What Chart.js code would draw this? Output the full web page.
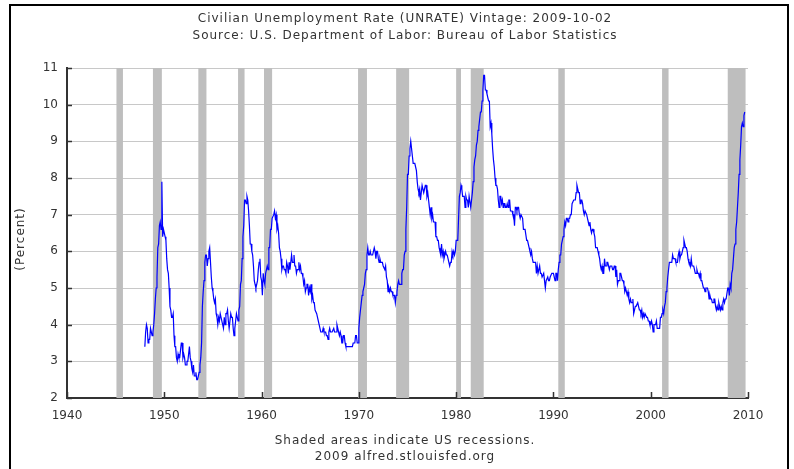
<!DOCTYPE html>
<html>
<head>
<meta charset="utf-8">
<title>UNRATE</title>
<script src="https://cdn.jsdelivr.net/npm/chart.js@4/dist/chart.umd.min.js"></script>
<style>
  html, body { margin: 0; padding: 0; background: #fff; }
  canvas { display: block; }
</style>
</head>
<body>
<canvas id="unrate-chart" width="794" height="469"></canvas>
<script>
// monthly civilian unemployment rate, Jan 1948 .. Sep 2009
const firstYear = 1948;
const rate1948to1959 = [
    3.4, 3.8, 4.0, 3.9, 3.5, 3.6, 3.6, 3.9, 3.8, 3.7, 3.8, 4.0,
    4.3, 4.7, 5.0, 5.3, 6.1, 6.2, 6.7, 6.8, 6.6, 7.9, 6.4, 6.6,
    6.5, 6.4, 6.3, 5.8, 5.5, 5.4, 5.0, 4.5, 4.4, 4.2, 4.2, 4.3,
    3.7, 3.4, 3.4, 3.1, 3.0, 3.2, 3.1, 3.1, 3.3, 3.5, 3.5, 3.1,
    3.2, 3.1, 2.9, 2.9, 3.0, 3.0, 3.2, 3.4, 3.1, 3.0, 2.8, 2.7,
    2.9, 2.6, 2.6, 2.7, 2.5, 2.5, 2.6, 2.7, 2.9, 3.1, 3.5, 4.5,
    4.9, 5.2, 5.7, 5.9, 5.9, 5.6, 5.8, 6.0, 6.1, 5.7, 5.3, 5.0,
    4.9, 4.7, 4.6, 4.7, 4.3, 4.2, 4.0, 4.2, 4.1, 4.3, 4.2, 4.2,
    4.0, 3.9, 4.2, 4.0, 4.3, 4.3, 4.4, 4.1, 3.9, 3.9, 4.3, 4.2,
    4.2, 3.9, 3.7, 3.9, 4.1, 4.3, 4.2, 4.1, 4.4, 4.5, 5.1, 5.2,
    5.8, 6.4, 6.7, 7.4, 7.4, 7.3, 7.5, 7.4, 7.1, 6.7, 6.2, 6.2,
    6.0, 5.9, 5.6, 5.2, 5.1, 5.0, 5.1, 5.2, 5.5, 5.7, 5.8, 5.3
];
const rate1960s = [
    5.2, 4.8, 5.4, 5.2, 5.1, 5.4, 5.5, 5.6, 5.5, 6.1, 6.1, 6.6,
    6.6, 6.9, 6.9, 7.0, 7.1, 6.9, 7.0, 6.6, 6.7, 6.5, 6.1, 6.0,
    5.8, 5.5, 5.6, 5.6, 5.5, 5.5, 5.4, 5.7, 5.6, 5.4, 5.7, 5.5,
    5.7, 5.9, 5.7, 5.7, 5.9, 5.6, 5.6, 5.4, 5.5, 5.5, 5.7, 5.5,
    5.6, 5.4, 5.4, 5.3, 5.1, 5.2, 4.9, 5.0, 5.1, 5.1, 4.8, 5.0,
    4.9, 5.1, 4.7, 4.8, 4.6, 4.6, 4.4, 4.4, 4.3, 4.2, 4.1, 4.0,
    4.0, 3.8, 3.8, 3.8, 3.9, 3.8, 3.8, 3.8, 3.7, 3.7, 3.6, 3.8,
    3.9, 3.8, 3.8, 3.8, 3.8, 3.9, 3.8, 3.8, 3.8, 4.0, 3.9, 3.8,
    3.7, 3.8, 3.7, 3.5, 3.5, 3.7, 3.7, 3.5, 3.4, 3.4, 3.4, 3.4,
    3.4, 3.4, 3.4, 3.4, 3.4, 3.5, 3.5, 3.5, 3.7, 3.7, 3.5, 3.5
];
const rate1970s = [
    3.9, 4.2, 4.4, 4.6, 4.8, 4.9, 5.0, 5.1, 5.4, 5.5, 5.9, 6.1,
    5.9, 5.9, 6.0, 5.9, 5.9, 5.9, 6.0, 6.1, 6.0, 5.8, 6.0, 6.0,
    5.8, 5.7, 5.8, 5.7, 5.7, 5.7, 5.6, 5.6, 5.5, 5.6, 5.3, 5.2,
    4.9, 5.0, 4.9, 5.0, 4.9, 4.9, 4.8, 4.8, 4.8, 4.6, 4.8, 4.9,
    5.1, 5.2, 5.1, 5.1, 5.1, 5.4, 5.5, 5.5, 5.9, 6.0, 6.6, 7.2,
    8.1, 8.1, 8.6, 8.8, 9.0, 8.8, 8.6, 8.4, 8.4, 8.4, 8.3, 8.2,
    7.9, 7.7, 7.6, 7.7, 7.4, 7.6, 7.8, 7.8, 7.6, 7.7, 7.8, 7.8,
    7.5, 7.6, 7.4, 7.2, 7.0, 7.2, 6.9, 7.0, 6.8, 6.8, 6.8, 6.4,
    6.4, 6.3, 6.3, 6.1, 6.0, 5.9, 6.2, 5.9, 6.0, 5.8, 5.9, 6.0,
    5.9, 5.9, 5.8, 5.8, 5.6, 5.7, 5.7, 6.0, 5.9, 6.0, 5.9, 6.0
];
const rate1980s = [
    6.3, 6.3, 6.3, 6.9, 7.5, 7.6, 7.8, 7.7, 7.5, 7.5, 7.5, 7.2,
    7.5, 7.4, 7.4, 7.2, 7.5, 7.5, 7.2, 7.4, 7.6, 7.9, 8.3, 8.5,
    8.6, 8.9, 9.0, 9.3, 9.4, 9.6, 9.8, 9.8, 10.1, 10.4, 10.8, 10.8,
    10.4, 10.4, 10.3, 10.2, 10.1, 10.1, 9.4, 9.5, 9.2, 8.8, 8.5, 8.3,
    8.0, 7.8, 7.8, 7.7, 7.4, 7.2, 7.5, 7.5, 7.3, 7.4, 7.2, 7.3,
    7.3, 7.2, 7.2, 7.3, 7.2, 7.4, 7.4, 7.1, 7.1, 7.1, 7.0, 7.0,
    6.7, 7.2, 7.2, 7.1, 7.2, 7.2, 7.0, 6.9, 7.0, 7.0, 6.9, 6.6,
    6.6, 6.6, 6.6, 6.3, 6.3, 6.2, 6.1, 6.0, 5.9, 6.0, 5.8, 5.7,
    5.7, 5.7, 5.7, 5.4, 5.6, 5.4, 5.4, 5.6, 5.4, 5.4, 5.3, 5.3,
    5.4, 5.2, 5.0, 5.2, 5.2, 5.3, 5.2, 5.2, 5.3, 5.3, 5.4, 5.4
];
const rate1990s = [
    5.4, 5.3, 5.2, 5.4, 5.4, 5.2, 5.5, 5.7, 5.9, 5.9, 6.2, 6.3,
    6.4, 6.6, 6.8, 6.7, 6.9, 6.9, 6.8, 6.9, 6.9, 7.0, 7.0, 7.3,
    7.3, 7.4, 7.4, 7.4, 7.6, 7.8, 7.7, 7.6, 7.6, 7.3, 7.4, 7.4,
    7.3, 7.1, 7.0, 7.1, 7.1, 7.0, 6.9, 6.8, 6.7, 6.8, 6.6, 6.5,
    6.6, 6.6, 6.5, 6.4, 6.1, 6.1, 6.1, 6.0, 5.9, 5.8, 5.6, 5.5,
    5.6, 5.4, 5.4, 5.8, 5.6, 5.6, 5.7, 5.7, 5.6, 5.5, 5.6, 5.6,
    5.6, 5.5, 5.5, 5.6, 5.6, 5.3, 5.5, 5.1, 5.2, 5.2, 5.4, 5.4,
    5.3, 5.2, 5.2, 5.1, 4.9, 5.0, 4.9, 4.8, 4.9, 4.7, 4.6, 4.7,
    4.6, 4.6, 4.7, 4.3, 4.4, 4.5, 4.5, 4.5, 4.6, 4.5, 4.4, 4.4,
    4.3, 4.4, 4.2, 4.3, 4.2, 4.3, 4.3, 4.2, 4.2, 4.1, 4.1, 4.0
];
const rate2000s = [
    4.0, 4.1, 4.0, 3.8, 4.0, 4.0, 4.0, 4.1, 3.9, 3.9, 3.9, 3.9,
    4.2, 4.2, 4.3, 4.4, 4.3, 4.5, 4.6, 4.9, 5.0, 5.3, 5.5, 5.7,
    5.7, 5.7, 5.7, 5.9, 5.8, 5.8, 5.8, 5.7, 5.7, 5.7, 5.9, 6.0,
    5.8, 5.9, 5.9, 6.0, 6.1, 6.3, 6.2, 6.1, 6.1, 6.0, 5.8, 5.7,
    5.7, 5.6, 5.8, 5.6, 5.6, 5.6, 5.5, 5.4, 5.4, 5.5, 5.4, 5.4,
    5.3, 5.4, 5.2, 5.2, 5.1, 5.0, 5.0, 4.9, 5.0, 5.0, 5.0, 4.9,
    4.7, 4.8, 4.7, 4.7, 4.6, 4.6, 4.7, 4.7, 4.5, 4.4, 4.5, 4.4,
    4.6, 4.5, 4.4, 4.5, 4.4, 4.6, 4.7, 4.6, 4.7, 4.7, 4.7, 5.0,
    5.0, 4.8, 5.1, 5.0, 5.4, 5.5, 5.8, 6.1, 6.2, 6.6, 6.8, 7.2,
    7.6, 8.1, 8.5, 8.9, 9.4, 9.5, 9.4, 9.7, 9.8
];

// NBER recessions, peak .. trough, as decimal years
const recessionStart = [1945.083, 1948.833, 1953.5, 1957.583, 1960.25, 1969.917, 1973.833, 1980.0, 1981.5, 1990.5, 2001.167, 2007.917];
const recessionEnd   = [1945.75, 1949.75, 1954.333, 1958.25, 1961.083, 1970.833, 1975.167, 1980.5, 1982.833, 1991.167, 2001.833, 2009.75];

const xTicks = [1940, 1950, 1960, 1970, 1980, 1990, 2000, 2010];
const yTicks = [2, 3, 4, 5, 6, 7, 8, 9, 10, 11];

const titleLines = ['Civilian Unemployment Rate (UNRATE) Vintage: 2009-10-02', 'Source: U.S. Department of Labor: Bureau of Labor Statistics'];
const footerLines = ['Shaded areas indicate US recessions.', '2009 alfred.stlouisfed.org'];
const yAxisTitle = '(Percent)';

const allRates = [].concat(rate1948to1959, rate1960s, rate1970s, rate1980s, rate1990s, rate2000s);
const points = allRates.map((v, i) => ({ x: firstYear + i / 12, y: v }));

const textColor = '#333';
const fontFamily = "'DejaVu Sans', Verdana, sans-serif";

const framePlugin = {
    id: 'frame',
    beforeDraw(chart) {
        const ctx = chart.ctx;
        ctx.save();
        ctx.fillStyle = '#fff';
        ctx.fillRect(0, 0, chart.width, chart.height);
        ctx.strokeStyle = '#000';
        ctx.lineWidth = 2;
        ctx.beginPath();
        ctx.moveTo(10, chart.height + 5);
        ctx.lineTo(10, 5);
        ctx.lineTo(788, 5);
        ctx.lineTo(788, chart.height + 5);
        ctx.stroke();
        ctx.restore();
    }
};

const recessionPlugin = {
    id: 'recessions',
    beforeDatasetsDraw(chart) {
        const { ctx, chartArea, scales } = chart;
        ctx.save();
        ctx.fillStyle = '#bebebe';
        recessionStart.forEach((s, i) => {
            const x0 = scales.x.getPixelForValue(s);
            const x1 = scales.x.getPixelForValue(recessionEnd[i]);
            ctx.fillRect(x0, chartArea.top, x1 - x0, chartArea.bottom - chartArea.top);
        });
        ctx.restore();
    }
};

// tick marks point into the plot
const innerTicksPlugin = {
    id: 'innerTicks',
    afterDatasetsDraw(chart) {
        const { ctx, chartArea, scales } = chart;
        ctx.save();
        ctx.strokeStyle = textColor;
        ctx.lineWidth = 1.5;
        ctx.beginPath();
        xTicks.forEach(t => {
            const px = Math.round(scales.x.getPixelForValue(t)) + 0.5;
            ctx.moveTo(px, chartArea.bottom);
            ctx.lineTo(px, chartArea.bottom - 6);
        });
        yTicks.forEach(t => {
            const py = Math.round(scales.y.getPixelForValue(t)) + 0.5;
            ctx.moveTo(chartArea.left, py);
            ctx.lineTo(chartArea.left + 5, py);
        });
        ctx.stroke();
        ctx.restore();
    }
};

// title, footer and axis title, drawn with the slightly wide letter spacing of the original
const captionPlugin = {
    id: 'captions',
    afterDraw(chart) {
        const ctx = chart.ctx;
        ctx.save();
        ctx.font = '12px ' + fontFamily;
        ctx.fillStyle = textColor;
        ctx.textAlign = 'center';
        ctx.textBaseline = 'middle';
        if ('letterSpacing' in ctx) ctx.letterSpacing = '1px';
        titleLines.forEach((t, i) => ctx.fillText(t, 405, 18.5 + i * 17));
        footerLines.forEach((t, i) => ctx.fillText(t, 405, 440.5 + i * 16.5));
        ctx.translate(21, 239);
        ctx.rotate(-Math.PI / 2);
        ctx.fillText(yAxisTitle, 0, 0);
        ctx.restore();
    }
};

Chart.defaults.font.family = fontFamily;
Chart.defaults.font.size = 12;
Chart.defaults.color = textColor;

const ctx = document.getElementById('unrate-chart').getContext('2d');
const unrateChart = new Chart(ctx, {
    type: 'line',
    data: {
        datasets: [{
            label: 'UNRATE',
            data: points,
            borderColor: '#0000ff',
            borderWidth: 1.2,
            pointRadius: 0,
            tension: 0,
            fill: false
        }]
    },
    options: {
        responsive: false,
        animation: false,
        devicePixelRatio: 1,
        layout: { padding: { left: 14, right: 0, top: 68, bottom: 41 } },
        plugins: {
            legend: { display: false },
            tooltip: { enabled: false },
            title: { display: false }
        },
        scales: {
            x: {
                type: 'linear',
                min: 1940,
                max: 2010,
                afterBuildTicks(scale) {
                    scale.ticks = xTicks.map(v => ({ value: v }));
                },
                afterFit(scale) { scale.height = 30; },
                ticks: {
                    padding: 11,
                    maxRotation: 0,
                    callback: v => String(v)
                },
                grid: { display: false, drawTicks: false },
                border: { display: true, color: textColor, width: 2 }
            },
            y: {
                type: 'linear',
                min: 2,
                max: 11,
                afterBuildTicks(scale) {
                    scale.ticks = yTicks.map(v => ({ value: v }));
                },
                afterFit(scale) { scale.width = 53; },
                ticks: { padding: 9 },
                grid: { color: '#c8c8c8', lineWidth: 1, drawTicks: false },
                border: { display: true, color: textColor, width: 2 }
            },
            y2: {
                type: 'linear',
                position: 'right',
                min: 0,
                max: 1,
                afterFit(scale) { scale.width = 46; },
                ticks: { display: false },
                grid: { display: false, drawTicks: false },
                border: { display: false }
            }
        }
    },
    plugins: [framePlugin, recessionPlugin, innerTicksPlugin, captionPlugin]
});
</script>
</body>
</html>
